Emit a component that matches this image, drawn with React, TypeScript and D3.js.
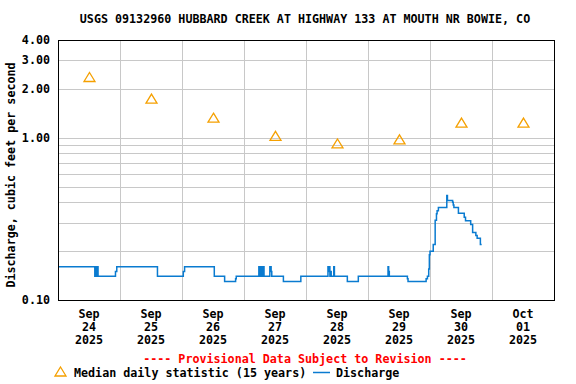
import React, { useEffect, useRef } from 'react';
import * as d3 from 'd3';

const title = 'USGS 09132960 HUBBARD CREEK AT HIGHWAY 133 AT MOUTH NR BOWIE, CO';
const yLabel = 'Discharge, cubic feet per second';

// day labels, centred at noon of each day
const dayLabels = [
  ['Sep', '24', '2025'],
  ['Sep', '25', '2025'],
  ['Sep', '26', '2025'],
  ['Sep', '27', '2025'],
  ['Sep', '28', '2025'],
  ['Sep', '29', '2025'],
  ['Sep', '30', '2025'],
  ['Oct', '01', '2025'],
];

const yTicks = [0.1, 1, 2, 3, 4];
const yGrid = [0.2, 0.3, 0.4, 0.5, 0.6, 0.7, 0.8, 0.9, 1, 2, 3];

// median daily statistic at noon of each day
const medianValues = [2.35, 1.73, 1.32, 1.02, 0.915, 0.97, 1.23, 1.23];

// discharge: hours since Sep 24 00:00, value (cfs); step levels
const dischargeHours = [
  0, 14.25, 14.5, 14.75, 15.0, 15.5, 22.25, 22.75, 38.5, 48.5, 49.0,
  60.5, 64.5, 68.75, 69.0, 77.75, 78.0, 78.25, 78.5, 78.75, 79.0, 79.5, 79.75,
  82.0, 82.5, 82.75, 87.25, 94.0, 104.5, 104.75, 105.0, 105.25, 105.5, 105.75,
  106.75, 107.0, 112.0, 116.25, 127.75, 128.0, 128.25, 135.25, 135.5,
  142.5, 143.0, 143.5, 143.75, 144.0, 145.25, 146.0, 146.5, 146.75, 147.25,
  150.5, 150.75, 152.75, 153.0, 153.25, 155.0, 157.25, 157.75, 159.75,
  160.5, 161.75, 162.25, 163.5, 164.0,
];
const dischargeValues = [
  0.16, 0.14, 0.16, 0.14, 0.16, 0.14, 0.15, 0.16, 0.14, 0.15, 0.16,
  0.14, 0.13, 0.135, 0.14, 0.16, 0.14, 0.16, 0.14, 0.16, 0.14, 0.16, 0.14,
  0.16, 0.15, 0.14, 0.13, 0.14, 0.16, 0.15, 0.16, 0.14, 0.15, 0.14,
  0.16, 0.14, 0.13, 0.14, 0.16, 0.15, 0.14, 0.135, 0.13,
  0.135, 0.14, 0.155, 0.19, 0.2, 0.22, 0.31, 0.34, 0.355, 0.372,
  0.44, 0.41, 0.4, 0.385, 0.372, 0.342, 0.323, 0.308, 0.292,
  0.261, 0.25, 0.24, 0.22, 0.22,
];

const W = 576;
const H = 384;
const margin = { top: 40, right: 22, bottom: 84, left: 58 };
const FONT = '"DejaVu Sans Mono", monospace';
const BLUE = '#0a7bd0';
const ORANGE = '#f5a000';

export default function App() {
  const ref = useRef<SVGSVGElement>(null);

  useEffect(() => {
    const svg = d3.select(ref.current);
    svg.selectAll('*').remove();

    const x = d3.scaleLinear().domain([0, 192]).range([margin.left, W - margin.right]);
    const y = d3.scaleLog().domain([0.1, 4]).range([H - margin.bottom, margin.top]);

    svg.append('rect').attr('width', W).attr('height', H).attr('fill', '#fff');

    // grid
    svg.append('g')
      .selectAll('line')
      .data(yGrid)
      .join('line')
      .attr('x1', x(0)).attr('x2', x(192))
      .attr('y1', d => Math.round(y(d)) + 0.5).attr('y2', d => Math.round(y(d)) + 0.5)
      .attr('stroke', '#c8c8c8');
    svg.append('g')
      .selectAll('line')
      .data(d3.range(24, 192, 24))
      .join('line')
      .attr('x1', d => Math.round(x(d)) + 0.5).attr('x2', d => Math.round(x(d)) + 0.5)
      .attr('y1', y(4)).attr('y2', y(0.1))
      .attr('stroke', '#c8c8c8');

    // discharge
    const pts = dischargeHours.map((h, i) => [h, dischargeValues[i]] as [number, number]);
    svg.append('path')
      .datum(pts)
      .attr('fill', 'none')
      .attr('stroke', BLUE)
      .attr('stroke-width', 1.5)
      .attr('d', d3.line<[number, number]>()
        .x(d => x(d[0]))
        .y(d => y(d[1]))
        .curve(d3.curveStepAfter));

    // median triangles
    const tri = (cx: number, cy: number) =>
      `M${cx},${cy - 5}L${cx + 5.5},${cy + 4}L${cx - 5.5},${cy + 4}Z`;
    svg.append('g')
      .selectAll('path')
      .data(medianValues)
      .join('path')
      .attr('d', (d, i) => tri(x(i * 24 + 12) + 0.5, y(d)))
      .attr('fill', 'none')
      .attr('stroke', ORANGE)
      .attr('stroke-width', 1.3);

    // frame
    svg.append('rect')
      .attr('x', x(0) + 0.5).attr('y', y(4) + 0.5)
      .attr('width', x(192) - x(0)).attr('height', y(0.1) - y(4))
      .attr('fill', 'none').attr('stroke', '#000');

    const txt = svg.append('g')
      .attr('font-family', FONT)
      .attr('font-weight', 'bold')
      .attr('font-size', 11.7);

    txt.append('text')
      .attr('x', 305).attr('y', 23)
      .attr('text-anchor', 'middle')
      .text(title);

    txt.selectAll('.ytick')
      .data(yTicks)
      .join('text')
      .attr('class', 'ytick')
      .attr('x', 50).attr('y', d => y(d) + 4)
      .attr('text-anchor', 'end')
      .text(d => d3.format('.2f')(d));

    txt.append('text')
      .attr('transform', `translate(15,${(y(4) + y(0.1)) / 2 + 5}) rotate(-90)`)
      .attr('text-anchor', 'middle')
      .text(yLabel);

    const days = txt.selectAll('.day')
      .data(dayLabels)
      .join('text')
      .attr('class', 'day')
      .attr('text-anchor', 'middle');
    days.selectAll('tspan')
      .data((d, i) => d.map(s => ({ s, i })))
      .join('tspan')
      .attr('x', d => x(d.i * 24 + 12))
      .attr('y', (d, j) => 318 + j * 13)
      .text(d => d.s);

    txt.append('text')
      .attr('x', 305).attr('y', 363)
      .attr('text-anchor', 'middle')
      .attr('fill', '#ff0000')
      .text('---- Provisional Data Subject to Revision ----');

    svg.append('path')
      .attr('d', tri(60.5, 372))
      .attr('fill', 'none')
      .attr('stroke', ORANGE)
      .attr('stroke-width', 1.3);
    txt.append('text')
      .attr('x', 74).attr('y', 377)
      .text('Median daily statistic (15 years)');
    svg.append('line')
      .attr('x1', 313).attr('x2', 330)
      .attr('y1', 372.5).attr('y2', 372.5)
      .attr('stroke', BLUE)
      .attr('stroke-width', 1.5);
    txt.append('text')
      .attr('x', 336).attr('y', 377)
      .text('Discharge');
  }, []);

  return (
    <svg
      ref={ref}
      width={W}
      height={H}
      viewBox={`0 0 ${W} ${H}`}
      style={{ position: 'absolute', left: 0, top: 0, display: 'block' }}
    />
  );
}
